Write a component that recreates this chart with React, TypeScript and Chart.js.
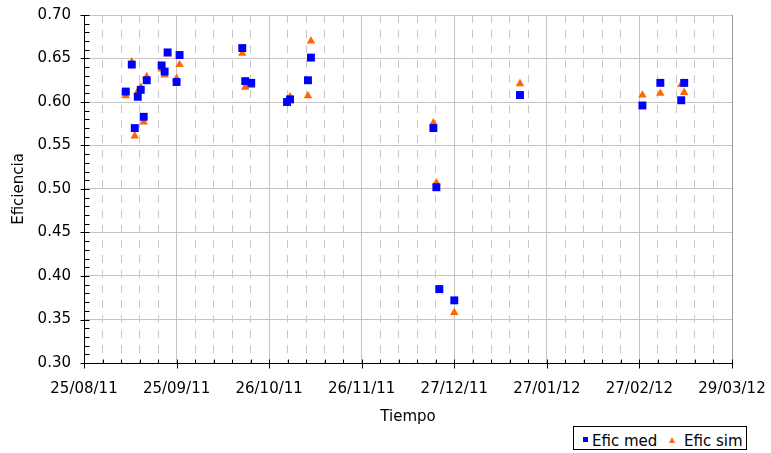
import React, { useEffect, useRef } from "react";
import { Chart, registerables } from "chart.js";

Chart.register(...registerables);

// ---- data ----
const startDate = "2011-08-25"; // x axis origin (25/08/11)
const axisEndDays = 217; // 29/03/12
const majorStepDays = 31;
const minorPerMajor = 5;
const yMin = 0.3;
const yMax = 0.7;
const yMajorStep = 0.05;
const yMinorStep = 0.01;

const measureDates = [
  "2011-09-08", "2011-09-10", "2011-09-11", "2011-09-12", "2011-09-13",
  "2011-09-14", "2011-09-15", "2011-09-20", "2011-09-21", "2011-09-22",
  "2011-09-25", "2011-09-26", "2011-10-17", "2011-10-18", "2011-10-20",
  "2011-11-01", "2011-11-02", "2011-11-08", "2011-11-09", "2011-12-20",
  "2011-12-21", "2011-12-22", "2011-12-27", "2012-01-18", "2012-02-28",
  "2012-03-05", "2012-03-12", "2012-03-13",
];
const eficMed = [
  0.612, 0.643, 0.570, 0.606, 0.614,
  0.583, 0.625, 0.642, 0.635, 0.657,
  0.623, 0.654, 0.662, 0.624, 0.622,
  0.600, 0.603, 0.625, 0.651, 0.570,
  0.502, 0.385, 0.372, 0.608, 0.596,
  0.622, 0.602, 0.622,
];
const eficSim = [
  0.607, 0.646, 0.561, 0.612, 0.617,
  0.577, 0.629, 0.638, 0.631, 0.655,
  0.627, 0.643, 0.656, 0.617, 0.619,
  0.600, 0.606, 0.607, 0.670, 0.576,
  0.507, 0.383, 0.358, 0.621, 0.608,
  0.610, 0.620, 0.611,
];
const seriesNames = ["Efic med", "Efic sim"];
const seriesColors = ["#0000FF", "#FF6600"];
const xTitle = "Tiempo";
const yTitle = "Eficiencia";

const FONT = '"DejaVu Sans", Verdana, sans-serif';
const DAY = 86400000;

function toUTC(s: string) {
  const [y, m, d] = s.split("-").map(Number);
  return Date.UTC(y, m - 1, d);
}
const startUTC = toUTC(startDate);
const dayOffset = (s: string) => Math.round((toUTC(s) - startUTC) / DAY);
const pad2 = (n: number) => (n < 10 ? "0" + n : "" + n);
function fmtDay(v: number) {
  const d = new Date(startUTC + Math.round(v) * DAY);
  return pad2(d.getUTCDate()) + "/" + pad2(d.getUTCMonth() + 1) + "/" + pad2(d.getUTCFullYear() % 100);
}

const minorStep = majorStepDays / minorPerMajor;
const xTickCount = Math.round(axisEndDays / minorStep);
const xTickValues = Array.from({ length: xTickCount + 1 }, (_, i) => i * minorStep);
const yTickValues = Array.from(
  { length: Math.round((yMax - yMin) / yMajorStep) + 1 },
  (_, i) => +(yMin + i * yMajorStep).toFixed(2)
);
const yMinorValues = Array.from(
  { length: Math.round((yMax - yMin) / yMinorStep) + 1 },
  (_, i) => +(yMin + i * yMinorStep).toFixed(2)
);

const tickPlugin = {
  id: "excelTicks",
  afterDraw(chart: any) {
    const { ctx, chartArea } = chart;
    const xs = chart.scales.x;
    const ys = chart.scales.y;
    ctx.save();
    // right border of plot area
    ctx.strokeStyle = "#9a9a9a";
    ctx.lineWidth = 1;
    ctx.beginPath();
    const rx = Math.round(chartArea.right) + 0.5;
    ctx.moveTo(rx, chartArea.top);
    ctx.lineTo(rx, chartArea.bottom);
    ctx.stroke();
    ctx.strokeStyle = "#000";
    ctx.beginPath();
    const by = Math.round(chartArea.bottom) + 0.5;
    xTickValues.forEach((v, i) => {
      const px = Math.round(xs.getPixelForValue(v)) + 0.5;
      const major = i % minorPerMajor === 0;
      ctx.moveTo(px, by - 4);
      ctx.lineTo(px, major ? by + 5 : by);
    });
    const lx = Math.round(chartArea.left) + 0.5;
    yMinorValues.forEach((v, i) => {
      const py = Math.round(ys.getPixelForValue(v)) + 0.5;
      const major = i % 5 === 0;
      ctx.moveTo(major ? lx - 4 : lx, py);
      ctx.lineTo(lx + 5, py);
    });
    ctx.stroke();
    ctx.restore();
  },
};

export default function App() {
  const ref = useRef<HTMLCanvasElement>(null);

  useEffect(() => {
    document.body.style.margin = "0";
    Chart.defaults.font.family = FONT;
    Chart.defaults.font.size = 15;
    Chart.defaults.color = "#000";

    const mk = (vals: number[]) => measureDates.map((d, i) => ({ x: dayOffset(d), y: vals[i] }));

    const chart = new Chart(ref.current!, {
      type: "scatter",
      data: {
        datasets: [
          {
            label: seriesNames[0],
            data: mk(eficMed),
            pointStyle: "rect",
            pointRadius: 5.6,
            pointHoverRadius: 5.6,
            backgroundColor: seriesColors[0],
            borderColor: seriesColors[0],
            borderWidth: 0,
          },
          {
            label: seriesNames[1],
            data: mk(eficSim),
            pointStyle: "triangle",
            pointRadius: 4.9,
            pointHoverRadius: 4.9,
            backgroundColor: seriesColors[1],
            borderColor: seriesColors[1],
            borderWidth: 0,
          },
        ],
      },
      options: {
        animation: false,
        responsive: false,
        devicePixelRatio: 1,
        events: [],
        layout: { padding: { top: 15, right: 39, left: 0, bottom: 0 } },
        plugins: {
          legend: { display: false },
          tooltip: { enabled: false },
        },
        scales: {
          x: {
            type: "linear",
            min: 0,
            max: axisEndDays,
            afterFit: (s: any) => {
              s.height = 90;
              s.paddingLeft = 0;
              s.paddingRight = 0;
            },
            afterBuildTicks: (s: any) => {
              s.ticks = xTickValues.map((v) => ({ value: v }));
            },
            ticks: {
              autoSkip: false,
              maxRotation: 0,
              padding: 17,
              callback: (v: any, i: number) => (i % minorPerMajor === 0 ? fmtDay(Number(v)) : ""),
            },
            grid: {
              drawTicks: false,
              tickLength: 0,
              lineWidth: 1,
              color: (c: any) => (c.index % minorPerMajor === 0 ? "#c4c4c4" : "#c8c8c8"),
            },
            border: {
              color: "#000",
              width: 1,
              dash: (c: any) => (c.index === undefined || c.index % minorPerMajor === 0 ? [] : [8, 7]),
            },
            title: {
              display: true,
              text: xTitle,
              font: { size: 15 },
              padding: { top: 0, bottom: 27 },
            },
          },
          y: {
            type: "linear",
            min: yMin,
            max: yMax,
            afterFit: (s: any) => {
              s.width = 84;
              s.paddingTop = 0;
              s.paddingBottom = 0;
            },
            afterBuildTicks: (s: any) => {
              s.ticks = yTickValues.map((v) => ({ value: v }));
            },
            ticks: {
              padding: 13,
              callback: (v: any) => Number(v).toFixed(2),
            },
            grid: {
              drawTicks: false,
              tickLength: 0,
              lineWidth: 1,
              color: "#c4c4c4",
            },
            border: { color: "#000", width: 1 },
            title: {
              display: true,
              text: yTitle,
              font: { size: 15 },
              padding: { top: 10, bottom: 0 },
            },
          },
        },
      },
      plugins: [tickPlugin],
    });
    return () => chart.destroy();
  }, []);

  const legendText: React.CSSProperties = {
    position: "absolute",
    top: 7,
    fontSize: 15,
    lineHeight: "15px",
    whiteSpace: "nowrap",
    color: "#000",
  };

  return (
    <div style={{ position: "relative", width: 771, height: 453, fontFamily: FONT }}>
      <canvas ref={ref} width={771} height={453} style={{ display: "block" }} />
      <div
        style={{
          position: "absolute",
          left: 573,
          top: 426,
          width: 174,
          height: 24,
          boxSizing: "border-box",
          border: "1px solid #000",
          background: "#fff",
        }}
      >
        <div
          style={{
            position: "absolute",
            left: 9,
            top: 10,
            width: 5,
            height: 5,
            background: seriesColors[0],
          }}
        />
        <span style={{ ...legendText, left: 18 }}>{seriesNames[0]}</span>
        <div
          style={{
            position: "absolute",
            left: 95,
            top: 10,
            width: 0,
            height: 0,
            borderLeft: "3px solid transparent",
            borderRight: "3px solid transparent",
            borderBottom: "6px solid " + seriesColors[1],
          }}
        />
        <span style={{ ...legendText, left: 110 }}>{seriesNames[1]}</span>
      </div>
    </div>
  );
}
